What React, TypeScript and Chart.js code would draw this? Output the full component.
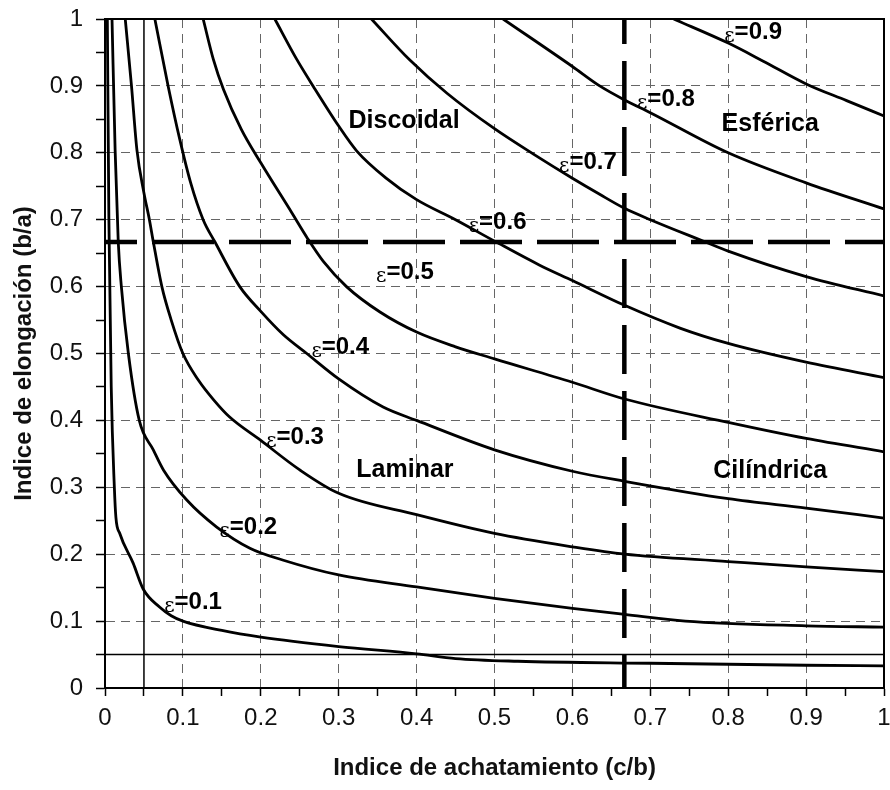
import React, { useEffect, useRef } from "react";
import { Chart, registerables } from "chart.js";

Chart.register(...registerables);

// ---- data: curves of constant ε  (x = c/b, y = b/a) ----
const e01X = [0.003, 0.005, 0.008, 0.012, 0.014, 0.019, 0.036, 0.049, 0.07, 0.085, 0.1, 0.15, 0.2, 0.3, 0.4, 0.45, 0.53, 0.7, 0.9, 1.0];
const e01Y = [1.0, 0.7, 0.45, 0.3, 0.255, 0.231, 0.187, 0.148, 0.121, 0.108, 0.1, 0.086, 0.076, 0.062, 0.051, 0.044, 0.04, 0.037, 0.034, 0.033];

const e02X = [0.009, 0.013, 0.017, 0.021, 0.03, 0.044, 0.062, 0.075, 0.105, 0.143, 0.186, 0.229, 0.3, 0.4, 0.5, 0.6, 0.667, 0.745, 0.9, 1.0];
const e02Y = [1.0, 0.804, 0.667, 0.6, 0.5, 0.4, 0.356, 0.326, 0.281, 0.241, 0.209, 0.191, 0.169, 0.151, 0.134, 0.119, 0.11, 0.1, 0.093, 0.091];

const e03X = [0.026, 0.034, 0.041, 0.05, 0.057, 0.062, 0.073, 0.085, 0.1, 0.12, 0.14, 0.16, 0.2, 0.25, 0.3, 0.4, 0.5, 0.6, 0.667, 0.8, 0.9, 1.0];
const e03Y = [1.0, 0.9, 0.804, 0.74, 0.7, 0.667, 0.6, 0.55, 0.5, 0.46, 0.43, 0.405, 0.37, 0.326, 0.291, 0.259, 0.231, 0.211, 0.2, 0.189, 0.181, 0.174];

const e04X = [0.064, 0.081, 0.096, 0.11, 0.126, 0.141, 0.173, 0.2, 0.229, 0.259, 0.3, 0.357, 0.4, 0.5, 0.6, 0.667, 0.8, 0.9, 1.0];
const e04Y = [1.0, 0.9, 0.82, 0.755, 0.7, 0.667, 0.6, 0.563, 0.528, 0.5, 0.462, 0.42, 0.4, 0.356, 0.324, 0.309, 0.283, 0.269, 0.254];

const e05X = [0.126, 0.139, 0.152, 0.175, 0.2, 0.24, 0.26, 0.28, 0.31, 0.353, 0.4, 0.45, 0.5, 0.6, 0.667, 0.8, 0.9, 1.0];
const e05Y = [1.0, 0.94, 0.895, 0.835, 0.785, 0.71, 0.672, 0.638, 0.6, 0.562, 0.532, 0.51, 0.492, 0.457, 0.432, 0.397, 0.373, 0.353];

const e06X = [0.218, 0.246, 0.267, 0.3, 0.323, 0.36, 0.4, 0.45, 0.5, 0.558, 0.6, 0.667, 0.738, 0.8, 0.9, 1.0];
const e06Y = [1.0, 0.94, 0.9, 0.84, 0.803, 0.763, 0.73, 0.7, 0.668, 0.632, 0.609, 0.572, 0.538, 0.515, 0.487, 0.464];

const e07X = [0.342, 0.391, 0.439, 0.5, 0.55, 0.6, 0.635, 0.667, 0.7, 0.77, 0.8, 0.9, 1.0];
const e07Y = [1.0, 0.939, 0.889, 0.836, 0.798, 0.762, 0.738, 0.717, 0.7, 0.667, 0.653, 0.615, 0.586];

const e08X = [0.511, 0.6, 0.635, 0.667, 0.7, 0.8, 0.9, 1.0];
const e08Y = [1.0, 0.929, 0.9, 0.879, 0.86, 0.8, 0.755, 0.716];

const e09X = [0.73, 0.8, 0.845, 0.9, 0.952, 1.0];
const e09Y = [1.0, 0.964, 0.937, 0.903, 0.878, 0.855];

const curveXs = [e01X, e02X, e03X, e04X, e05X, e06X, e07X, e08X, e09X];
const curveYs = [e01Y, e02Y, e03Y, e04Y, e05Y, e06Y, e07Y, e08Y, e09Y];

// reference lines (limits between classes)
const thinLimit = 0.05;
const classLimit = 2 / 3;

// ε labels (value, anchor in data units)
const epsValues = ["0.1", "0.2", "0.3", "0.4", "0.5", "0.6", "0.7", "0.8", "0.9"];
const epsLabelX = [0.113, 0.184, 0.244, 0.302, 0.385, 0.504, 0.62, 0.72, 0.832];
const epsLabelY = [0.13, 0.242, 0.377, 0.511, 0.623, 0.698, 0.788, 0.882, 0.982];

// class names
const classNames = ["Discoidal", "Esférica", "Laminar", "Cilíndrica"];
const classX = [0.384, 0.854, 0.385, 0.854];
const classY = [0.851, 0.846, 0.329, 0.327];

const xTitle = "Indice de achatamiento (c/b)";
const yTitle = "Indice de elongación (b/a)";

const FONT = "'Liberation Sans', Arial, sans-serif";

const isMajor = (v: number) => Math.abs(v * 10 - Math.round(v * 10)) < 1e-6;
const fmt = (v: number) => String(Math.round(v * 10) / 10);

const overlayPlugin = {
  id: "overlay",
  afterDatasetsDraw(chart: any) {
    const { ctx, chartArea: a } = chart;
    const xs = chart.scales.x;
    const ys = chart.scales.y;
    ctx.save();
    ctx.strokeStyle = "#000";
    ctx.lineWidth = 2;
    ctx.setLineDash([]);
    ctx.strokeRect(a.left, a.top, a.right - a.left, a.bottom - a.top);

    ctx.fillStyle = "#000";
    ctx.textBaseline = "alphabetic";
    ctx.textAlign = "left";
    const epsFont = `20px 'DejaVu Serif', serif`;
    const boldFont = `bold 24px ${FONT}`;
    for (let i = 0; i < epsValues.length; i++) {
      const px = xs.getPixelForValue(epsLabelX[i]);
      const py = ys.getPixelForValue(epsLabelY[i]);
      const rest = "=" + epsValues[i];
      ctx.font = epsFont;
      const w1 = ctx.measureText("ε").width;
      ctx.font = boldFont;
      const w2 = ctx.measureText(rest).width;
      const sx = px - (w1 + w2) / 2;
      ctx.font = epsFont;
      ctx.fillText("ε", sx, py + 11);
      ctx.font = boldFont;
      ctx.fillText(rest, sx + w1, py + 8);
    }
    ctx.font = `bold 25px ${FONT}`;
    ctx.textAlign = "center";
    for (let i = 0; i < classNames.length; i++) {
      const px = xs.getPixelForValue(classX[i]);
      const py = ys.getPixelForValue(classY[i]);
      ctx.fillText(classNames[i], px, py + 9);
    }
    ctx.restore();
  },
};

export default function App() {
  const ref = useRef<HTMLCanvasElement | null>(null);

  useEffect(() => {
    if (!ref.current) return;
    const datasets: any[] = curveXs.map((xsArr, i) => ({
      label: "ε=" + epsValues[i],
      data: xsArr.map((x, j) => ({ x, y: curveYs[i][j] })),
      showLine: true,
      borderColor: "#000",
      borderWidth: 2.8,
      pointRadius: 0,
      cubicInterpolationMode: "monotone",
      fill: false,
    }));
    datasets.push(
      {
        label: "c/b=0.05",
        data: [{ x: thinLimit, y: 0 }, { x: thinLimit, y: 1 }],
        showLine: true, borderColor: "#000", borderWidth: 1.5, pointRadius: 0,
      },
      {
        label: "b/a=0.05",
        data: [{ x: 0, y: thinLimit }, { x: 1, y: thinLimit }],
        showLine: true, borderColor: "#000", borderWidth: 1.5, pointRadius: 0,
      },
      {
        label: "c/b=2/3",
        data: [{ x: classLimit, y: 1 }, { x: classLimit, y: 0 }],
        showLine: true, borderColor: "#000", borderWidth: 4.5, pointRadius: 0,
        borderDash: [49, 17], borderDashOffset: 24,
      },
      {
        label: "b/a=2/3",
        data: [{ x: 0, y: classLimit }, { x: 1, y: classLimit }],
        showLine: true, borderColor: "#000", borderWidth: 4.5, pointRadius: 0,
        borderDash: [62, 15], borderDashOffset: 30,
      }
    );

    const gridColor = (c: any) => {
      const v = c.tick ? c.tick.value : 0;
      return isMajor(v) && v > 0.001 && v < 0.999 ? "#666" : "rgba(0,0,0,0)";
    };

    const chart = new Chart(ref.current, {
      type: "scatter",
      data: { datasets },
      plugins: [overlayPlugin],
      options: {
        animation: false,
        responsive: false,
        maintainAspectRatio: false,
        layout: { padding: { top: 19, right: 6, left: 0, bottom: 0 } },
        plugins: { legend: { display: false }, tooltip: { enabled: false } },
        scales: {
          x: {
            type: "linear",
            min: 0,
            max: 1,
            afterFit: (s: any) => {
              s.height = 102;
              s.paddingLeft = 0;
              s.paddingRight = 0;
            },
            ticks: {
              stepSize: 0.05,
              autoSkip: false,
              maxRotation: 0,
              padding: 8,
              color: "#111",
              font: { family: FONT, size: 24 },
              callback: (v: any) => (isMajor(Number(v)) ? fmt(Number(v)) : ""),
            },
            grid: { color: gridColor, lineWidth: 1, tickColor: "#000", tickLength: 8, tickWidth: 1.5 },
            border: { display: true, color: "#000", width: 2, dash: [9, 6] },
            title: {
              display: true,
              text: xTitle,
              color: "#111",
              font: { family: FONT, size: 24, weight: "bold" },
              padding: { top: 0, bottom: 7 },
            },
          },
          y: {
            type: "linear",
            min: 0,
            max: 1,
            afterFit: (s: any) => {
              s.width = 105;
              s.paddingTop = 0;
              s.paddingBottom = 0;
            },
            ticks: {
              stepSize: 0.05,
              autoSkip: false,
              padding: 13,
              color: "#111",
              font: { family: FONT, size: 24 },
              callback: (v: any) => (isMajor(Number(v)) ? fmt(Number(v)) : ""),
            },
            grid: { color: gridColor, lineWidth: 1, tickColor: "#000", tickLength: 9, tickWidth: 1.5 },
            border: { display: true, color: "#000", width: 2, dash: [9, 6] },
            title: {
              display: true,
              text: yTitle,
              color: "#111",
              font: { family: FONT, size: 24, weight: "bold" },
              padding: { top: 10, bottom: 0 },
            },
          },
        },
      } as any,
    });
    return () => chart.destroy();
  }, []);

  return (
    <div style={{ position: "absolute", left: 0, top: 0, width: 890, height: 790, background: "#fff" }}>
      <canvas ref={ref} width={890} height={790} style={{ display: "block" }} />
    </div>
  );
}
